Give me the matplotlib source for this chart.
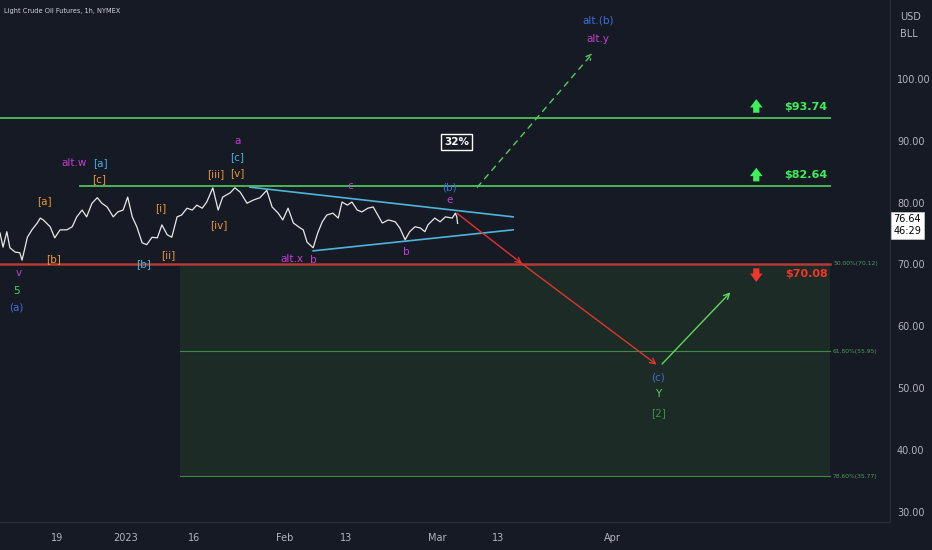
import matplotlib
matplotlib.use("Agg")
import matplotlib.pyplot as plt
import matplotlib.transforms as mtransforms

# x axis: trading-day index, 0 = Mon 19 Dec 2022 (weekends/holidays skipped)
days = [-7.5, -7.1, -6.6, -6.2, -5.5, -4.9, -4.6, -4.2, -3.9, -3.3, -2.6, -2.2, -1.8,
        -0.9, -0.3, 0.4, 1.3, 2.0, 2.6, 3.3, 3.9, 4.6, 5.3, 5.9, 6.6, 7.4, 8.0, 8.7,
        9.3, 9.9, 10.5, 11.2, 11.8, 12.5, 13.2, 13.8, 14.5, 15.1, 15.8, 16.4, 17.1,
        17.8, 18.4, 19.1, 19.7, 20.5, 21.2, 21.8, 22.8, 23.4, 24.1, 25.0, 25.8, 26.7,
        27.6, 28.3, 29.1, 29.7, 30.4, 31.1, 32.0, 32.4, 32.9, 33.7, 34.3, 34.9, 35.5,
        36.3, 37.0, 37.5, 38.2, 38.8, 39.5, 40.1, 40.9, 41.6, 42.2, 42.8, 43.6, 44.5,
        45.1, 45.8, 46.4, 47.1, 47.8, 48.4, 48.8, 49.7, 50.4, 51.1, 52.0, 52.4, 52.6,
        52.7]
prices = [75.1, 72.8, 75.3, 72.7, 72.0, 71.9, 70.7, 72.8, 74.4, 75.6, 76.7, 77.5, 77.2,
          76.1, 74.3, 75.6, 75.6, 76.1, 77.7, 78.8, 77.7, 79.9, 80.8, 79.9, 79.3, 77.7,
          78.5, 78.8, 80.9, 77.7, 76.1, 73.5, 73.2, 74.4, 74.3, 76.4, 74.8, 74.4, 77.7,
          78.0, 79.1, 78.8, 79.6, 79.1, 80.1, 82.4, 78.8, 80.9, 81.6, 82.4, 81.7, 79.9,
          80.4, 80.8, 82.0, 79.3, 78.3, 77.2, 79.1, 76.7, 75.9, 75.6, 73.6, 72.7, 75.1,
          76.9, 78.0, 78.3, 77.5, 80.1, 79.6, 80.1, 78.8, 78.5, 79.1, 79.3, 78.0, 76.7,
          77.2, 76.9, 75.9, 74.0, 75.3, 76.1, 75.9, 75.3, 76.4, 77.5, 76.9, 77.7, 77.5,
          78.3, 77.7, 76.64]
last_price = "76.64"
countdown = "46:29"

tick_days = [0, 9, 18, 30, 38, 50, 58, 73]
tick_labels = ["19", "2023", "16", "Feb", "13", "Mar", "13", "Apr"]
price_ticks = [30, 40, 50, 60, 70, 80, 90, 100]

level_hi = 93.74
level_mid = 82.64
level_lo = 70.08
fib_prices = [70.12, 55.95, 35.77]
fib_names = ["50.00%", "61.80%", "78.60%"]

tri_up_x, tri_up_y = [25.4, 60.0], [82.5, 77.7]
tri_lo_x, tri_lo_y = [33.7, 60.0], [72.2, 75.6]

red_path_x = [52.6, 61.2, 78.9]
red_path_y = [78.3, 70.1, 53.8]
green_path_x = [79.6, 88.6]
green_path_y = [53.9, 65.5]
alt_path_x = [55.3, 70.5]
alt_path_y = [82.5, 104.2]

MAG, ORG, CYA, BLU = "#c23fcf", "#e8972e", "#3fb6e0", "#3d6fd6"
wave_labels = [
    ("alt.w", 2.2, 86.4, MAG), ("[a]", 5.7, 86.4, CYA), ("[c]", 5.5, 83.8, ORG),
    ("[a]", -1.7, 80.3, ORG), ("[b]", -0.5, 70.9, ORG), ("v", -5.0, 68.6, MAG),
    ("5", -5.3, 65.7, "#3fd84e"), ("(a)", -5.3, 63.1, BLU), ("[b]", 11.4, 70.1, CYA),
    ("[i]", 13.6, 79.1, ORG), ("[ii]", 14.7, 71.5, ORG), ("[iii]", 20.9, 84.6, ORG),
    ("[iv]", 21.3, 76.4, ORG), ("[v]", 23.7, 84.8, ORG), ("[c]", 23.7, 87.4, CYA),
    ("a", 23.7, 90.0, MAG), ("alt.x", 30.9, 70.9, MAG), ("b", 33.7, 70.7, MAG),
    ("c", 38.6, 82.7, MAG), ("(b)", 51.6, 82.5, BLU), ("e", 51.6, 80.4, MAG),
    ("b", 46.0, 72.0, MAG), ("alt.(b)", 71.2, 109.5, BLU), ("alt.y", 71.2, 106.5, MAG),
    ("(c)", 79.1, 51.8, BLU), ("Y", 79.1, 49.1, "#5bd65b"), ("[2]", 79.1, 46.0, "#3f8f45"),
]

BG = "#161a25"
TXT = "#b2b5be"
GRN = "#4cc35a"
RED = "#b33a35"

fig = plt.figure(figsize=(9.32, 5.5), dpi=100, facecolor=BG)
ax = fig.add_axes([0, 0.051, 0.955, 0.949])
ax.set_facecolor(BG)
ax.set_xlim(-7.5, 109.6)
ax.set_ylim(28.36, 112.77)

# fib box
box_l, box_r = 16.2, 101.7
ax.fill_between([box_l, box_r], fib_prices[2], fib_prices[0], color="#1c2b25", lw=0, zorder=0)
for fp, fn in zip(fib_prices, fib_names):
    if fp != fib_prices[0]:
        ax.plot([box_l, box_r], [fp, fp], color="#3b8a48", lw=0.8, zorder=1)
    ax.text(box_r + 0.4, fp, f"{fn}({fp:.2f})", color="#4f9a58", fontsize=4.3,
            va="center", ha="left")

# horizontal levels
ax.plot([-7.5, box_r], [level_hi, level_hi], color=GRN, lw=1.3, zorder=2)
ax.plot([3.0, box_r], [level_mid, level_mid], color=GRN, lw=1.3, zorder=2)
ax.plot([-7.5, box_r], [level_lo, level_lo], color=RED, lw=1.8, zorder=2)

arrow_style = "simple,head_width=0.9,head_length=0.6,tail_width=0.45"
for lvl, col, up in [(level_hi, "#3df05a", True), (level_mid, "#3df05a", True),
                     (level_lo, "#f2362c", False)]:
    ty = lvl + 1.8 if up else lvl - 1.55
    ax.text(box_r - 0.3, ty, f"${lvl:.2f}", color=col, fontsize=8, fontweight="bold",
            ha="right", va="center")
    if up:
        ax.annotate("", xy=(92.0, lvl + 3.0), xytext=(92.0, lvl + 0.8),
                    arrowprops=dict(arrowstyle=arrow_style, color=col, lw=0,
                                    shrinkA=0, shrinkB=0, mutation_scale=10))
    else:
        ax.annotate("", xy=(92.0, lvl - 2.9), xytext=(92.0, lvl - 0.7),
                    arrowprops=dict(arrowstyle=arrow_style, color=col, lw=0,
                                    shrinkA=0, shrinkB=0, mutation_scale=10))

# triangle
ax.plot(tri_up_x, tri_up_y, color="#4fb4dc", lw=1.2, zorder=3)
ax.plot(tri_lo_x, tri_lo_y, color="#4fb4dc", lw=1.2, zorder=3)

# price
ax.plot(days, prices, color="#e8e8e8", lw=0.9, zorder=4)

# projected paths
for i in range(len(red_path_x) - 1):
    ax.annotate("", xy=(red_path_x[i + 1], red_path_y[i + 1]), xytext=(red_path_x[i], red_path_y[i]),
                arrowprops=dict(arrowstyle="->", color="#e0352b", lw=1.0, shrinkA=0, shrinkB=0))
ax.annotate("", xy=(green_path_x[1], green_path_y[1]), xytext=(green_path_x[0], green_path_y[0]),
            arrowprops=dict(arrowstyle="->", color="#5fd65f", lw=1.0, shrinkA=0, shrinkB=0))
ax.annotate("", xy=(alt_path_x[1], alt_path_y[1]), xytext=(alt_path_x[0], alt_path_y[0]),
            arrowprops=dict(arrowstyle="->", color="#4fcf5f", lw=1.0, ls=(0, (4, 4)),
                            shrinkA=0, shrinkB=0))

for txt, x, y, col in wave_labels:
    ax.text(x, y, txt, color=col, fontsize=7.5, ha="center", va="center", zorder=5)

ax.text(52.6, 89.8, "32%", color="white", fontsize=7.5, fontweight="bold", ha="center",
        va="center", bbox=dict(boxstyle="square,pad=0.3", fc=BG, ec="white", lw=1.0))

ax.text(0.005, 0.985, "Light Crude Oil Futures, 1h, NYMEX", transform=ax.transAxes,
        color="#d1d4dc", fontsize=4.8, va="top", ha="left")

# axes styling
for s in ["top", "left"]:
    ax.spines[s].set_visible(False)
ax.spines["right"].set_color("#2a2e39")
ax.spines["bottom"].set_color("#2a2e39")
ax.yaxis.tick_right()
ax.set_yticks(price_ticks)
ax.set_yticklabels([f"{p:.2f}" for p in price_ticks])
ax.set_xticks(tick_days)
ax.set_xticklabels(tick_labels)
ax.tick_params(axis="both", colors=TXT, labelsize=7.0, length=0)
ax.tick_params(axis="y", pad=5)
ax.tick_params(axis="x", pad=8)

fig.text(0.966, 0.978, "USD", color=TXT, fontsize=7.0, va="top")
fig.text(0.966, 0.948, "BLL", color=TXT, fontsize=7.0, va="top")

trans = mtransforms.blended_transform_factory(ax.transAxes, ax.transData)
ax.text(1.004, 76.64 - 0.3, f"{last_price}\n{countdown}", transform=trans, color="black",
        fontsize=7.0, va="center", ha="left", linespacing=1.2,
        bbox=dict(boxstyle="square,pad=0.3", fc="white", ec="#cccccc", lw=0.5))

fig.savefig("out.png", dpi=100, facecolor=BG)
